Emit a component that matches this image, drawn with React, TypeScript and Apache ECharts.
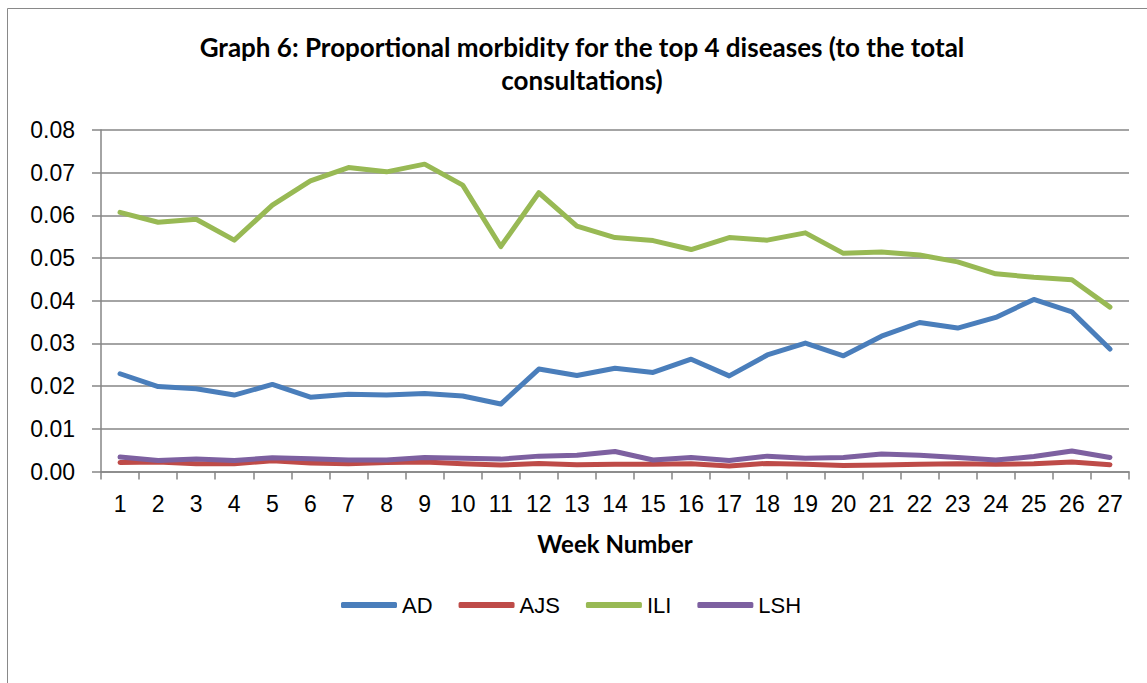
import React, { useEffect, useRef } from "react";
import * as echarts from "echarts";

const weeks = Array.from({ length: 27 }, (_, i) => String(i + 1));

const seriesNames = ["AD", "AJS", "ILI", "LSH"];

const adValues = [
  0.0229, 0.0199, 0.0194, 0.0179, 0.0204, 0.0174, 0.0181, 0.0179, 0.0183, 0.0177,
  0.0158, 0.024, 0.0225, 0.0242, 0.0232, 0.0263, 0.0224, 0.0273, 0.0301, 0.0271,
  0.0317, 0.0349, 0.0336, 0.0361, 0.0403, 0.0374, 0.0287,
];

const ajsValues = [
  0.0021, 0.0022, 0.0018, 0.0018, 0.0025, 0.002, 0.0018, 0.0021, 0.0022, 0.0018,
  0.0015, 0.0019, 0.0016, 0.0017, 0.0017, 0.0018, 0.0013, 0.0019, 0.0017, 0.0014,
  0.0015, 0.0017, 0.0018, 0.0017, 0.0018, 0.0022, 0.0016,
];

const iliValues = [
  0.0607, 0.0584, 0.0591, 0.0542, 0.0624, 0.0681, 0.0712, 0.0702, 0.072, 0.0671,
  0.0527, 0.0653, 0.0575, 0.0548, 0.0541, 0.052, 0.0548, 0.0542, 0.0559, 0.0511,
  0.0514, 0.0507, 0.0491, 0.0463, 0.0455, 0.0449, 0.0385,
];

const lshValues = [
  0.0034, 0.0026, 0.0029, 0.0026, 0.0032, 0.003, 0.0027, 0.0027, 0.0033, 0.0031,
  0.0029, 0.0036, 0.0038, 0.0047, 0.0027, 0.0033, 0.0026, 0.0036, 0.0031, 0.0033,
  0.0041, 0.0038, 0.0033, 0.0027, 0.0035, 0.0048, 0.0033,
];

const seriesColors = ["#4A7EBB", "#BE4B48", "#98B954", "#7D60A0"];

const titleText =
  "Graph 6: Proportional morbidity for the top 4 diseases (to the total\nconsultations)";
const xAxisName = "Week Number";

export default function App() {
  const ref = useRef<HTMLDivElement>(null);

  useEffect(() => {
    if (!ref.current) return;
    const chart = echarts.init(ref.current, undefined, { renderer: "svg" });
    const allValues = [adValues, ajsValues, iliValues, lshValues];
    const gridColor = "#868686";
    chart.setOption({
      animation: false,
      backgroundColor: "#ffffff",
      title: {
        text: titleText,
        left: 582,
        top: 30,
        padding: 0,
        textAlign: "center",
        textStyle: {
          fontFamily: "Lato",
          fontWeight: "bold",
          fontSize: 26,
          lineHeight: 33,
          color: "#000000",
        },
      },
      graphic: [
        {
          type: "rect",
          shape: { x: 7.5, y: 8.5, width: 1300, height: 800 },
          style: { fill: "none", stroke: "#898989", lineWidth: 1 },
          silent: true,
        },
      ],
      legend: {
        left: 341,
        top: 594,
        padding: 0,
        itemWidth: 56,
        itemHeight: 6,
        itemGap: 26,
        icon: "roundRect",
        data: seriesNames,
        textStyle: {
          fontFamily: "Liberation Sans",
          fontSize: 22,
          color: "#000000",
        },
      },
      grid: {
        left: 101,
        top: 130,
        right: 18,
        bottom: 211.5,
        containLabel: false,
      },
      xAxis: {
        type: "category",
        data: weeks,
        boundaryGap: true,
        name: xAxisName,
        nameLocation: "middle",
        nameGap: 60,
        nameTextStyle: {
          fontFamily: "Lato",
          fontWeight: "bold",
          fontSize: 24,
          color: "#000000",
        },
        axisLine: { show: true, lineStyle: { color: gridColor, width: 1.5 } },
        axisTick: {
          show: true,
          length: 8,
          alignWithLabel: false,
          lineStyle: { color: gridColor, width: 1.5 },
        },
        axisLabel: {
          fontFamily: "Liberation Sans",
          fontSize: 23,
          color: "#000000",
          margin: 21,
          interval: 0,
        },
      },
      yAxis: {
        type: "value",
        min: 0,
        max: 0.08,
        interval: 0.01,
        axisLine: { show: true, lineStyle: { color: gridColor, width: 1.5 } },
        axisTick: {
          show: true,
          length: 9,
          lineStyle: { color: gridColor, width: 1.5 },
        },
        splitLine: { show: true, lineStyle: { color: gridColor, width: 1.5 } },
        axisLabel: {
          fontFamily: "Liberation Sans",
          fontSize: 23,
          color: "#000000",
          margin: 26,
          formatter: (v: number) => v.toFixed(2),
        },
      },
      series: seriesNames.map((name, i) => ({
        name,
        type: "line",
        data: allValues[i],
        symbol: "none",
        showSymbol: false,
        color: seriesColors[i],
        lineStyle: {
          color: seriesColors[i],
          width: 5,
          cap: "round",
          join: "round",
        },
      })),
    });
    return () => {
      chart.dispose();
    };
  }, []);

  return (
    <div
      ref={ref}
      style={{
        position: "absolute",
        left: 0,
        top: 0,
        width: 1147,
        height: 683,
      }}
    />
  );
}
